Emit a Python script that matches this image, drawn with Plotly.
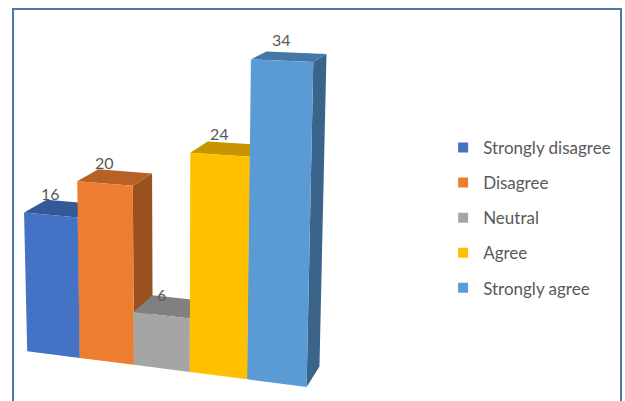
import numpy as np
import plotly.graph_objects as go

labels = ["Strongly disagree", "Disagree", "Neutral", "Agree", "Strongly agree"]
values = [16, 20, 6, 24, 34]
colors = ["#4472C4", "#ED7D31", "#A5A5A5", "#FFC000", "#5B9BD5"]

# Perspective camera for the 3-D column look:
# world (column index, value, depth) -> view coordinates
CAMERA = np.array([
    [51.43, -0.22957, 23.902, 27.216],
    [1.5193, -8.9402, -5.0915, 351.19],
    [-0.014522, -0.0013131, 0.037578, 1.0],
])


def proj(X, Y, Z):
    h = CAMERA @ np.array([X, Y, Z, 1.0])
    return h[0] / h[2], h[1] / h[2]


def shade(hexc, k):
    r, g, b = (int(hexc[i:i + 2], 16) for i in (1, 3, 5))
    return f"rgb({int(r * k)},{int(g * k)},{int(b * k)})"


fig = go.Figure()

# Columns drawn left to right; each as side, top and front faces
for i, (v, c) in enumerate(zip(values, colors)):
    x0, x1 = i, i + 1
    faces = [
        ([(x1, 0, 0), (x1, 0, 1), (x1, v, 1), (x1, v, 0)], shade(c, 0.65)),
        ([(x0, v, 0), (x1, v, 0), (x1, v, 1), (x0, v, 1)], shade(c, 0.78)),
        ([(x0, 0, 0), (x1, 0, 0), (x1, v, 0), (x0, v, 0)], c),
    ]
    for pts, fc in faces:
        xy = [proj(*p) for p in pts]
        xs = [p[0] for p in xy] + [xy[0][0]]
        ys = [p[1] for p in xy] + [xy[0][1]]
        fig.add_trace(go.Scatter(x=xs, y=ys, fill="toself", fillcolor=fc, mode="lines",
                                 line=dict(width=0, color=fc), showlegend=False,
                                 hoverinfo="skip"))
    lx, ly = proj(i + 0.5, v, 0)
    fig.add_annotation(x=lx, y=ly, text=str(v), showarrow=False, yshift=21,
                       font=dict(family="Lato", size=16, color="#595959"))

# Legend keys
for lab, c in zip(labels, colors):
    fig.add_trace(go.Scatter(x=[None], y=[None], mode="markers", name=lab, legendgroup=lab,
                             marker=dict(symbol="square", size=10, color=c)))

# Chart frame
fig.add_shape(type="rect", xref="x", yref="y", x0=13, x1=621, y0=9, y1=420,
              line=dict(color="#4A78A8", width=2), layer="above")

fig.update_layout(
    width=625, height=401, margin=dict(l=0, r=0, t=0, b=0),
    paper_bgcolor="white", plot_bgcolor="white",
    xaxis=dict(range=[0, 625], visible=False, domain=[0, 1]),
    yaxis=dict(range=[401, 0], visible=False, domain=[0, 1]),
    legend=dict(x=0.709, y=0.676, xanchor="left", yanchor="top", tracegroupgap=10,
                font=dict(family="Lato", size=17, color="#595959"),
                bgcolor="rgba(0,0,0,0)"),
)
fig.write_html("out.html")
